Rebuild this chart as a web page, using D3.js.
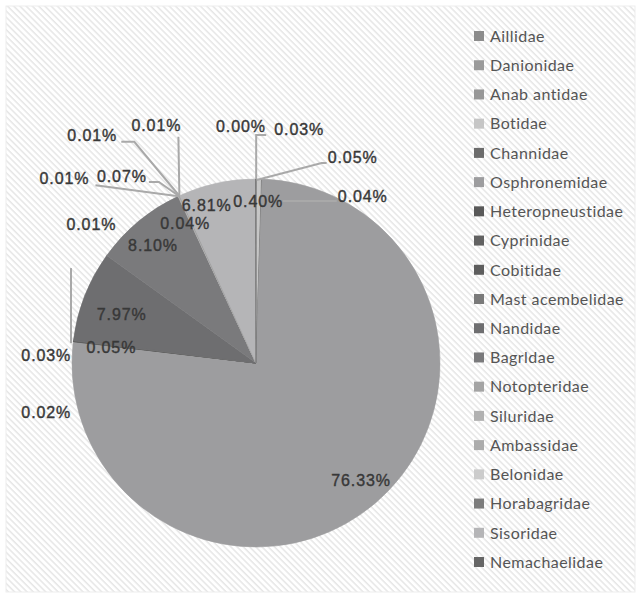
<!DOCTYPE html>
<html>
<head>
<meta charset="utf-8">
<script src="https://cdn.jsdelivr.net/npm/d3@7"></script>
<style>
  html, body { margin: 0; padding: 0; background: #ffffff; }
  svg { display: block; }
</style>
</head>
<body>
<svg id="chart" width="641" height="598"></svg>
<script>
// Fish families, in slice order (clockwise from 12 o'clock) and legend order
const families = [
  "Aillidae", "Danionidae", "Anab antidae", "Botidae", "Channidae",
  "Osphronemidae", "Heteropneustidae", "Cyprinidae", "Cobitidae",
  "Mast acembelidae", "Nandidae", "Bagrldae", "Notopteridae", "Siluridae",
  "Ambassidae", "Belonidae", "Horabagridae", "Sisoridae", "Nemachaelidae"
];

// Share of each family, in percent
const shares = [
  0.00, 0.03, 0.05, 0.40, 0.04,
  76.33, 0.02, 0.03, 0.05,
  0.01, 7.97, 8.10, 0.04, 0.01,
  0.07, 0.01, 0.01, 6.81, 0.02
];

// Grey fill per family
const fills = [
  "#8c8c8c", "#9a9a9a", "#979797", "#c6c6c6", "#6c6c6c",
  "#9d9d9f", "#595959", "#626262", "#5e5e5e",
  "#7a7a7a", "#6e6e70", "#7a7a7c", "#a4a4a4", "#b2b2b2",
  "#acacac", "#cccccc", "#7d7d7d", "#b5b5b7", "#666666"
];

// Label placement: offset [dx, dy] of the text centre from the slice's rim point,
// and an optional leader polyline given as offsets from that same rim point.
const labelPlacement = [
  { at: [-15, -53] },
  { at: [43, -50], leader: [[0, 0], [0, -44], [10, -44]] },
  { at: [96, -22], leader: [[0, 1], [65, -16], [70, -16]] },
  { at: [-1, 22] },
  { at: [101, 17], leader: [[21, 22], [75, 22]] },
  { at: [-15, -22] },
  { at: [-27, 71] },
  { at: [-27, 14] },
  { at: [38, 6] },
  { at: [18, -116], leader: [[-2.4, 2.6], [-2.4, -72.4]] },
  { at: [37, 18] },
  { at: [14.5, 23.6] },
  { at: [7, 27] },
  { at: [-114, -18], leader: [[0, 0], [-83, -11]] },
  { at: [-57, -20], leader: [[0, 0], [-20, -14], [-30, -14]] },
  { at: [-87, -61], leader: [[0, 0], [-45, -54], [-58, -54]] },
  { at: [-23, -70], leader: [[0, 0], [-1, -59]] },
  { at: [-10, 22] },
  null
];

const width = 641, height = 598;
const cx = 256, cy = 363, radius = 184;

const svg = d3.select("#chart");
const defs = svg.append("defs");

// Diagonal hatch behind the whole chart
const hatch = defs.append("pattern")
  .attr("id", "hatch")
  .attr("patternUnits", "userSpaceOnUse")
  .attr("width", 4.4).attr("height", 4.4)
  .attr("patternTransform", "rotate(-45)");
hatch.append("rect").attr("width", 4.4).attr("height", 4.4).attr("fill", "#ffffff");
hatch.append("line")
  .attr("x1", 1).attr("y1", 0).attr("x2", 1).attr("y2", 4.4)
  .attr("stroke", "#e6e6e6").attr("stroke-width", 1.5);

svg.append("rect")
  .attr("x", 6).attr("y", 6)
  .attr("width", width - 12).attr("height", height - 12)
  .attr("fill", "url(#hatch)")
  .attr("stroke", "#ededed").attr("stroke-width", 1);

const color = d3.scaleOrdinal().domain(families).range(fills);

const rows = families.map((f, i) => ({ family: f, share: shares[i], i }));

const pie = d3.pie().sort(null).value(d => d.share);
const arcs = pie(rows);

const arc = d3.arc().innerRadius(0).outerRadius(radius);
const rim = d3.arc().innerRadius(radius).outerRadius(radius);

const g = svg.append("g").attr("transform", `translate(${cx},${cy})`);

g.selectAll("path.slice")
  .data(arcs)
  .join("path")
  .attr("class", "slice")
  .attr("d", arc)
  .attr("fill", d => color(d.data.family))
  .attr("stroke", d => color(d.data.family))
  .attr("stroke-width", 0.6);

// Leader lines
const line = d3.line();
const labelled = arcs.filter(d => labelPlacement[d.data.i]);

g.selectAll("path.leader")
  .data(labelled.filter(d => labelPlacement[d.data.i].leader))
  .join("path")
  .attr("class", "leader")
  .attr("fill", "none")
  .attr("stroke", "#a9a9a9")
  .attr("stroke-width", 2)
  .attr("d", d => {
    const [px, py] = rim.centroid(d);
    return line(labelPlacement[d.data.i].leader.map(([dx, dy]) => [px + dx, py + dy]));
  });

// Percentage labels
const fmt = v => d3.format(".2f")(v) + "%";
g.selectAll("text.pct")
  .data(labelled)
  .join("text")
  .attr("class", "pct")
  .attr("x", d => rim.centroid(d)[0] + labelPlacement[d.data.i].at[0])
  .attr("y", d => rim.centroid(d)[1] + labelPlacement[d.data.i].at[1])
  .attr("text-anchor", "middle")
  .attr("dy", "0.36em")
  .attr("font-family", "'Liberation Sans', Arial, sans-serif")
  .attr("font-size", 16)
  .attr("letter-spacing", 0.9)
  .attr("fill", "#383838")
  .attr("stroke", "#383838")
  .attr("stroke-width", 0.4)
  .text(d => fmt(d.data.share));

// Legend
const legendY = d3.scalePoint().domain(families).range([36, 562]);
const legend = svg.append("g");
const item = legend.selectAll("g")
  .data(families)
  .join("g")
  .attr("transform", f => `translate(474,${legendY(f)})`);
item.append("rect")
  .attr("x", 0).attr("y", -5)
  .attr("width", 10).attr("height", 10)
  .attr("fill", f => color(f));
item.append("text")
  .attr("x", 16).attr("dy", "0.36em")
  .attr("font-family", "Lato, 'Open Sans', sans-serif")
  .attr("font-size", 16)
  .attr("letter-spacing", 0.45)
  .attr("fill", "#555555")
  .text(f => f);
</script>
</body>
</html>
